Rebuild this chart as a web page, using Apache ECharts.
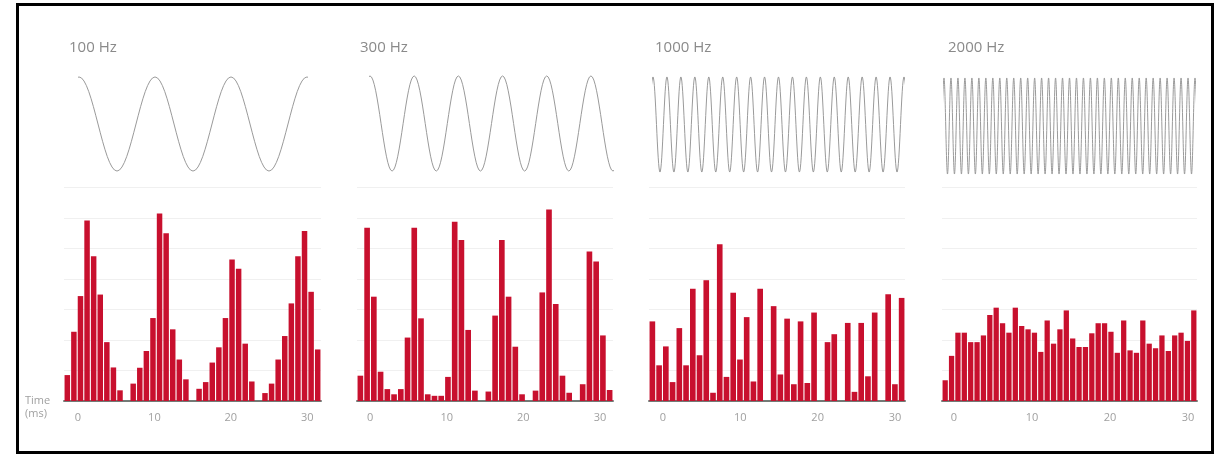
<!DOCTYPE html>
<html><head><meta charset="utf-8">
<script src="https://cdn.jsdelivr.net/npm/echarts@6/dist/echarts.min.js"></script>
<style>html,body{margin:0;padding:0;background:#fff}#c{width:1225px;height:456px}</style>
</head><body><div id="c"></div>
<script>
// Panel titles
const titles = ['100 Hz', '300 Hz', '1000 Hz', '2000 Hz'];
// Time axis tick labels (ms)
const tickValues = [0, 10, 20, 30];
// Visible time range of each histogram (ms)
const axisMinMs = [-1.83, -1.70, -1.81, -1.54];
const axisMaxMs = [31.80, 31.70, 31.30, 31.15];
// Spike counts per bin (units of grid lines)
const hist100 = [0.85,2.27,3.44,5.92,4.75,3.49,1.93,1.10,0.35,0,0.57,1.09,1.64,2.72,6.15,5.50,2.35,1.36,0.71,0,0.40,0.62,1.26,1.76,2.72,4.64,4.34,1.88,0.64,0,0.26,0.57,1.36,2.13,3.20,4.75,5.57,3.58,1.69];
const hist300 = [0.83,5.68,3.42,0.96,0.39,0.22,0.39,2.08,5.68,2.71,0.22,0.17,0.17,0.79,5.88,5.28,2.33,0.34,0,0.31,2.80,5.28,3.42,1.78,0.22,0,0.34,3.56,6.28,3.18,0.83,0.27,0,0.55,4.90,4.57,2.15,0.36];
const hist1000 = [2.61,1.17,1.79,0.62,2.39,1.17,3.68,1.50,3.96,0.27,5.14,0.79,3.55,1.36,2.75,0.64,3.68,0,3.11,0.87,2.70,0.55,2.61,0.59,2.90,0,1.93,2.19,0,2.56,0.30,2.56,0.81,2.90,0,3.50,0.55,3.38];
const hist2000 = [0.68,1.48,2.24,2.24,1.93,1.93,2.15,2.82,3.06,2.55,2.24,3.06,2.46,2.35,2.24,1.61,2.64,1.88,2.35,2.97,2.05,1.77,1.77,2.22,2.55,2.55,2.27,1.58,2.64,1.66,1.58,2.64,1.88,1.73,2.15,1.64,2.15,2.24,1.97,2.97];
// Stimulus waveforms: successive peaks (1) and troughs (-1)
const wave100 = [1,-1,1,-1,1,-1,1];
const wave300 = [1,-1,1,-1,1,-1,1,-1,1,-1,1,-1];
const wave1000 = [1,-1,1,-1,1,-1,1,-1,1,-1,1,-1,1,-1,1,-1,1,-1,1,-1,1,-1,1,-1,1,-1,1,-1,1,-1,1,-1,1,-1,1,-1,1];
const wave2000 = [1,-1,1,-1,1,-1,1,-1,1,-1,1,-1,1,-1,1,-1,1,-1,1,-1,1,-1,1,-1,1,-1,1,-1,1,-1,1,-1,1,-1,1,-1,1,-1,1,-1,1,-1,1,-1,1,-1,1,-1,1,-1,1,-1,1,-1,1,-1,1,-1,1,-1,1,-1,1,-1,1,-1,1,-1,1,-1,1,-1,1];

const hists = [hist100, hist300, hist1000, hist2000];
const waves = [wave100, wave300, wave1000, wave2000];

const barLeft = [64, 357, 649, 942];
const barRight = [321, 613, 905, 1197];
const waveBox = [[79, 307, 76, 172], [370, 613, 75, 172], [653, 904, 76, 173], [944, 1195, 77, 175]];
const titleLeft = [64, 355, 650, 943];

const font = '"Open Sans", Lato, sans-serif';
const grid = [], xAxis = [], yAxis = [], series = [], title = [];

hists.forEach((h, k) => {
  const gi = grid.length;
  grid.push({left: barLeft[k], width: barRight[k] - barLeft[k], top: 187.5, bottom: 55, containLabel: false});
  const n = h.length;
  const lo = axisMinMs[k], hi = axisMaxMs[k];
  const bw = (hi - lo) / n;
  const pxPerBin = (barRight[k] - barLeft[k]) / n;
  xAxis.push({
    type: 'value', gridIndex: gi, min: lo, max: hi,
    axisLine: {show: true, onZero: true, lineStyle: {color: '#737a76', width: 2}},
    axisTick: {show: false},
    splitLine: {show: false},
    axisLabel: {customValues: tickValues, color: '#a0a0a0', fontSize: 11, fontFamily: font, margin: 11, formatter: v => String(v)}
  });
  yAxis.push({
    type: 'value', gridIndex: gi, min: 0, max: 7, interval: 1,
    axisLine: {show: false}, axisTick: {show: false}, axisLabel: {show: false},
    splitLine: {show: true, showMinLine: false, lineStyle: {color: '#f0f0f0', width: 1}}
  });
  series.push({
    type: 'bar', xAxisIndex: gi, yAxisIndex: gi,
    data: h.map((v, i) => [lo + (i + 0.5) * bw, v]),
    barWidth: pxPerBin - 1.1,
    itemStyle: {color: '#c8102e'},
    silent: true, animation: false
  });
  title.push({text: titles[k], left: titleLeft[k], top: 35,
    textStyle: {color: '#8a8a8a', fontSize: 15, fontWeight: 'normal', fontFamily: font}});
});

waves.forEach((w, k) => {
  const gi = grid.length;
  const b = waveBox[k];
  grid.push({left: b[0], width: b[1] - b[0], top: b[2], height: b[3] - b[2]});
  xAxis.push({type: 'value', gridIndex: gi, min: 0, max: w.length - 1, show: false});
  yAxis.push({type: 'value', gridIndex: gi, min: -1.02, max: 1.02, show: false});
  // pad one extreme beyond each end so the curve keeps its shape at the edges (clipped by the grid)
  const pts = w.map((v, i) => [i, v]);
  pts.unshift([-1, -w[0]]);
  pts.push([w.length, -w[w.length - 1]]);
  series.push({
    type: 'line', xAxisIndex: gi, yAxisIndex: gi,
    data: pts, clip: true,
    smooth: 0.36, showSymbol: false,
    lineStyle: {color: '#9a9a9a', width: 1},
    silent: true, animation: false
  });
});

const chart = echarts.init(document.getElementById('c'), null, {renderer: 'canvas'});
chart.setOption({
  animation: false,
  backgroundColor: '#ffffff',
  title: title,
  grid: grid, xAxis: xAxis, yAxis: yAxis, series: series,
  graphic: [
    {type: 'rect', shape: {x: 17.5, y: 4.5, width: 1195, height: 448},
     style: {fill: 'none', stroke: '#000', lineWidth: 3}, silent: true},
    {type: 'text', left: 25, top: 395, style: {text: 'Time', fill: '#a0a0a0', fontSize: 11, fontFamily: font}},
    {type: 'text', left: 25, top: 408, style: {text: '(ms)', fill: '#a0a0a0', fontSize: 11, fontFamily: font}}
  ]
});
</script></body></html>
